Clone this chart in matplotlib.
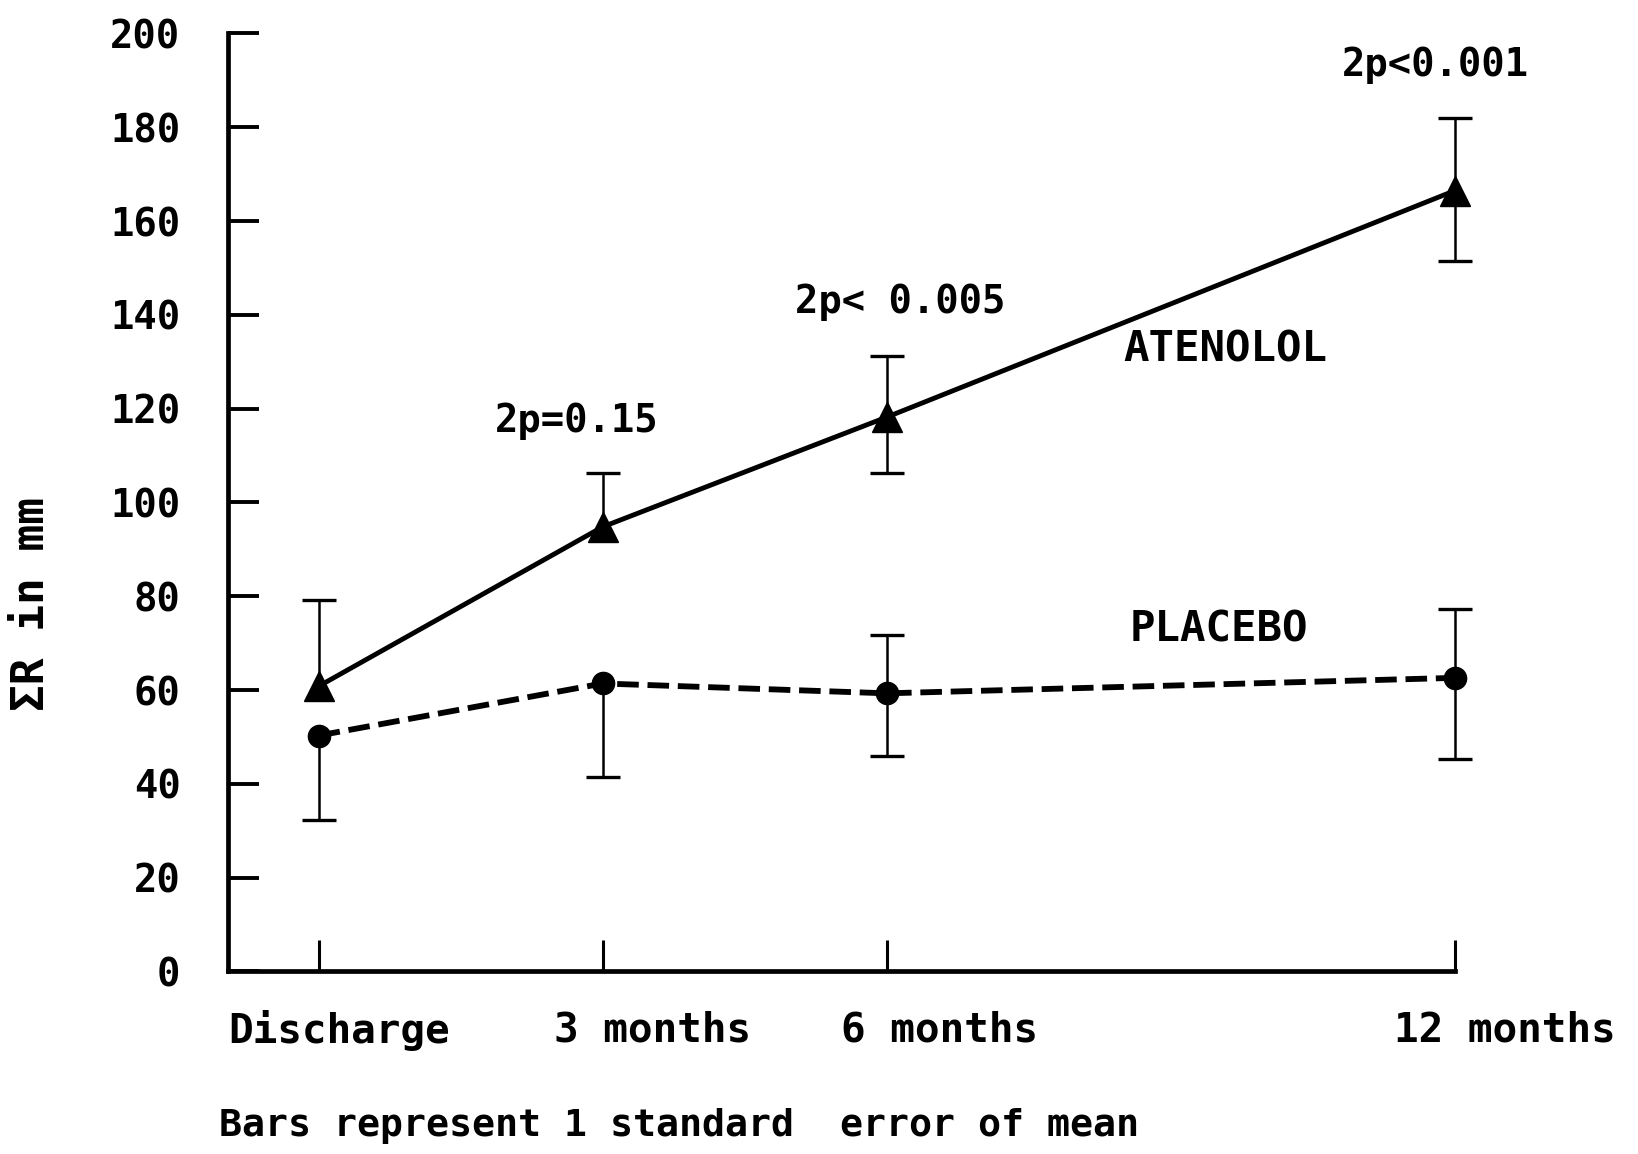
import matplotlib
matplotlib.use("Agg")
import matplotlib.pyplot as plt
import numpy as np
from matplotlib.transforms import ScaledTranslation

# ---- data ----
timepoints = [0, 3, 6, 12]
tick_labels = ["Discharge", "3 months", "6 months", "12 months"]
atenolol = [60.8, 94.8, 118.2, 166.5]
atenolol_err_low = [0, 0, 12, 15]
atenolol_err_high = [18.5, 11.5, 13, 15.5]
placebo = [50.3, 61.4, 59.3, 62.6]
placebo_err_low = [18, 20, 13.3, 17.3]
placebo_err_high = [0, 0, 12.5, 14.6]
yticks = [0, 20, 40, 60, 80, 100, 120, 140, 160, 180, 200]
pvals = ["2p=0.15", "2p< 0.005", "2p<0.001"]
pval_pos = [(2.72, 117.4), (6.14, 142.8), (11.79, 193.3)]
series_names = ["ATENOLOL", "PLACEBO"]
series_name_pos = [(9.57, 132.7), (9.51, 73.0)]
ylabel = "\u03a3R in mm"
note = "Bars represent 1 standard  error of mean"

FONT = "DejaVu Sans Mono"
plt.rcParams["font.family"] = [FONT, "DejaVu Sans"]
plt.rcParams["font.weight"] = "bold"

fig = plt.figure(figsize=(16.38, 11.54), dpi=100)
ax = fig.add_axes([0.139, 0.1582, 0.8883 - 0.139, 0.971 - 0.1582])


def draw_errors(x, y, lo, hi):
    x = np.asarray(x, float)
    y = np.asarray(y, float)
    lo = np.asarray(lo, float)
    hi = np.asarray(hi, float)
    ax.errorbar(x, y, yerr=[lo, hi], fmt="none", ecolor="black",
                elinewidth=1.8, capsize=0, clip_on=False, zorder=3)
    m = lo > 0
    ax.plot(x[m], (y - lo)[m], ls="none", marker="_", ms=24, mew=2.4,
            color="black", clip_on=False, zorder=3)
    m = hi > 0
    ax.plot(x[m], (y + hi)[m], ls="none", marker="_", ms=24, mew=2.4,
            color="black", clip_on=False, zorder=3)


draw_errors(timepoints, atenolol, atenolol_err_low, atenolol_err_high)
draw_errors(timepoints, placebo, placebo_err_low, placebo_err_high)

ax.plot(timepoints, atenolol, color="black", lw=3.5, marker="^", ms=22,
        clip_on=False, zorder=4)
ax.plot(timepoints, placebo, color="black", lw=4.2, dashes=(3.7, 1.5),
        marker="o", ms=16, clip_on=False, zorder=4)

ax.set_xlim(-0.96, 12)
ax.set_ylim(0, 200)

for s in ["top", "right"]:
    ax.spines[s].set_visible(False)
for s in ["left", "bottom"]:
    ax.spines[s].set_linewidth(3.4)

ax.set_yticks(yticks)
ax.set_yticklabels([str(v) for v in yticks])
ax.tick_params(axis="y", direction="in", length=22, width=2.8, pad=34,
               labelsize=28)
ax.set_xticks(timepoints)
ax.set_xticklabels(tick_labels)
ax.tick_params(axis="x", direction="in", length=22, width=2.2, pad=28,
               labelsize=29.5)

label_shift_pts = [15, 36, 38, 36]
for lab, dx in zip(ax.get_xticklabels(), label_shift_pts):
    lab.set_transform(lab.get_transform() + ScaledTranslation(dx / 72, 0, fig.dpi_scale_trans))

for txt, (x, y) in zip(pvals, pval_pos):
    ax.text(x, y, txt, ha="center", va="center", fontsize=28, fontweight="bold")
for txt, (x, y) in zip(series_names, series_name_pos):
    ax.text(x, y, txt, ha="center", va="center", fontsize=30.5, fontweight="bold")

fig.text(0.019, 0.4766, ylabel, rotation=90, ha="center", va="center",
         fontsize=32, fontweight="bold")
fig.text(0.1337, 0.024, note, ha="left", va="center", fontsize=27.5,
         fontweight="bold")

fig.savefig("out.png", dpi=100, facecolor="white")
